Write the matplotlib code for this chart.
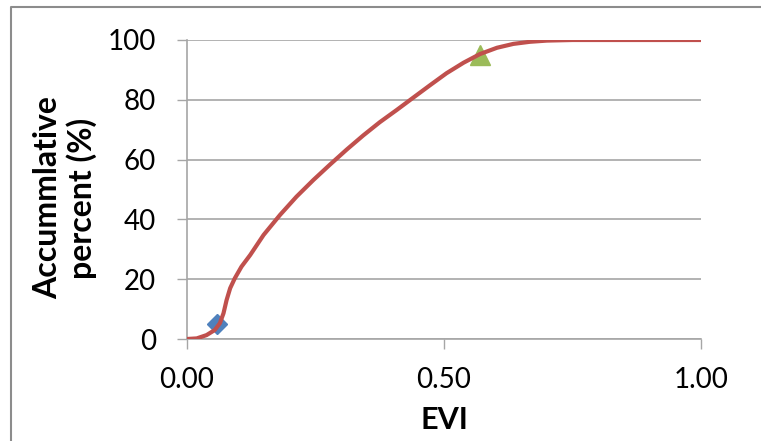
import matplotlib
matplotlib.use("Agg")
import matplotlib.pyplot as plt
from matplotlib.lines import Line2D

# values
evi = [0.0, 0.019, 0.038, 0.054, 0.064, 0.071, 0.077, 0.084, 0.093, 0.106,
       0.123, 0.149, 0.181, 0.213, 0.246, 0.278, 0.311, 0.343, 0.375, 0.408,
       0.440, 0.473, 0.505, 0.538, 0.570, 0.603, 0.635, 0.667, 0.700, 0.75,
       1.0]
percent = [0, 0.2, 1.3, 3.0, 5.3, 8.6, 13.0, 17.0, 20.3, 24.2,
           28.1, 34.8, 41.5, 47.6, 53.2, 58.3, 63.4, 68.1, 72.5, 76.6,
           80.7, 84.9, 88.9, 92.4, 95.3, 97.4, 98.7, 99.4, 99.8, 100,
           100]
low_point = (0.058, 5)
high_point = (0.57, 95)
x_ticks = [0.0, 0.5, 1.0]
x_labels = ["0.00", "0.50", "1.00"]
y_ticks = [0, 20, 40, 60, 80, 100]

plt.rcParams['font.family'] = ['Lato', 'DejaVu Sans']

fig = plt.figure(figsize=(7.61, 4.41), dpi=100)
ax = fig.add_axes([187 / 761, 1 - 339 / 441, 514 / 761, 299 / 441])

grid_col = "#a6a6a6"
ax.plot(evi, percent, color="#C0504D", lw=3, solid_joinstyle="round",
        solid_capstyle="round", zorder=4)
ax.plot(*low_point, marker="D", ms=10.5, color="#4F81BD", ls="none", zorder=3)
ax.plot(*high_point, marker="^", ms=14.5, color="#9BBB59", ls="none", zorder=3)

ax.set_xlim(0, 1)
ax.set_ylim(0, 100)
ax.set_xticks(x_ticks)
ax.set_xticklabels(x_labels)
ax.set_yticks(y_ticks)
ax.yaxis.grid(True, color=grid_col, lw=1.2)
ax.set_axisbelow(True)

for side in ["top", "right"]:
    ax.spines[side].set_visible(False)
for side in ["left", "bottom"]:
    ax.spines[side].set_color(grid_col)
    ax.spines[side].set_linewidth(1.2)

ax.tick_params(axis="both", colors=grid_col, labelcolor="#000000",
               labelsize=20, length=7.2, width=1.0, direction="out")
ax.tick_params(axis="y", pad=15)
ax.tick_params(axis="x", pad=13)

ax.set_xlabel("EVI", fontsize=22, fontweight="bold", labelpad=9)
fig.text(65 / 761, 1 - 198 / 441, "Accummlative\npercent (%)", rotation=90,
         ha="center", va="center", multialignment="center",
         fontsize=23, fontweight="bold", linespacing=1.15)

# outer chart border (cropped on right and bottom)
fig.add_artist(Line2D([11 / 761, 11 / 761, 1], [0, 1 - 7 / 441, 1 - 7 / 441],
                      transform=fig.transFigure, color="#8c8c8c", lw=1.5))

fig.savefig("out.png", dpi=100)
